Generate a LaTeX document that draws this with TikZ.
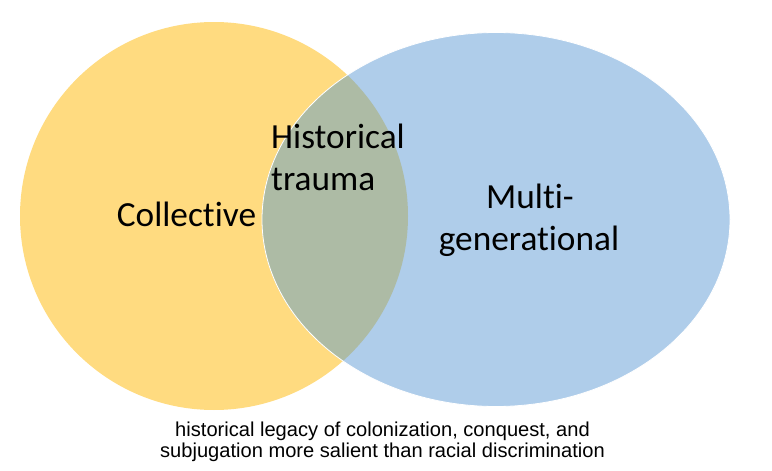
\documentclass[tikz,border=0pt]{standalone}
\usepackage{fontspec}
\setmainfont{Carlito}[Ligatures=NoCommon]
\newfontfamily\arialfont{Liberation Sans}
\definecolor{vennyellow}{HTML}{FFDB80}
\definecolor{vennblue}{HTML}{AFCDEA}
\definecolor{venngreen}{HTML}{ADBBA5}
\begin{document}
\begin{tikzpicture}[x=1pt,y=-1pt,
  biglabel/.style={font=\fontsize{35.3}{42}\selectfont, inner sep=0pt, text=black},
  caption/.style={font=\arialfont\fontsize{20.1}{22}\selectfont, inner sep=0pt, align=center, text=black}]
\useasboundingbox (0,0) rectangle (772,471);
% circles
\fill[vennyellow] (214,216) circle [radius=194];
\fill[vennblue] (496,219.5) ellipse [x radius=234, y radius=187];
\begin{scope}
  \clip (214,216) circle [radius=194];
  \fill[venngreen] (496,219.5) ellipse [x radius=234, y radius=187];
\end{scope}
\draw[white, line width=0.8pt] (496,219.5) ellipse [x radius=234, y radius=187];
% labels
\node[biglabel, anchor=base] (collective) at (186.5,226) {Collective};
\node[biglabel, anchor=base west] (historical) at (271,148) {Historical};
\node[biglabel, anchor=base west] (trauma) at (271,190) {trauma};
\node[biglabel, anchor=base] (multi) at (530,208) {Multi-};
\node[biglabel, anchor=base] (generational) at (529,250) {generational};
\node[caption, anchor=base] (cap1) at (382.5,436) {historical legacy of colonization, conquest, and};
\node[caption, anchor=base] (cap2) at (382.5,457) {subjugation more salient than racial discrimination};
\end{tikzpicture}
\end{document}
